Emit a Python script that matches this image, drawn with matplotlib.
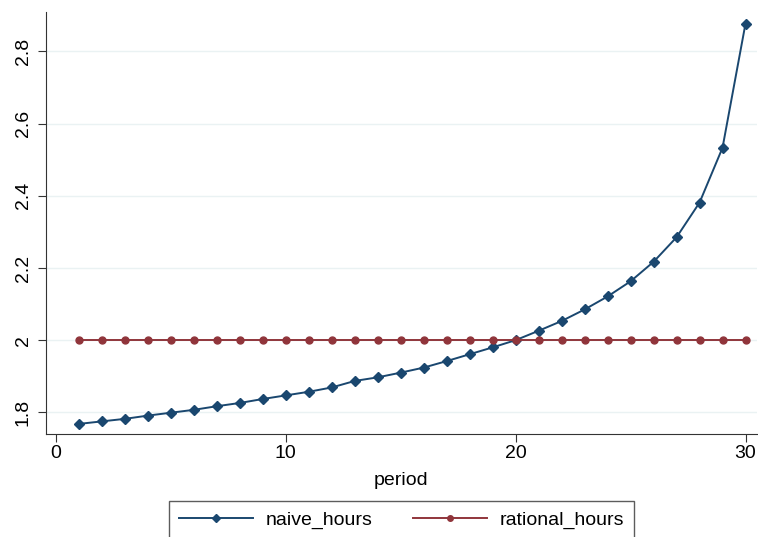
import matplotlib
matplotlib.use("Agg")
import matplotlib.pyplot as plt

plt.rcParams['font.family'] = ['Liberation Sans', 'DejaVu Sans']

period = list(range(1, 31))
naive_hours = [1.768, 1.775, 1.782, 1.791, 1.799, 1.807, 1.817, 1.826, 1.837, 1.847,
               1.857, 1.869, 1.887, 1.897, 1.910, 1.924, 1.942, 1.961, 1.980, 2.000,
               2.026, 2.053, 2.085, 2.121, 2.163, 2.217, 2.285, 2.381, 2.533, 2.877]
rational_hours = [2.0] * 30
xticks = [0, 10, 20, 30]
yticks = [1.8, 2.0, 2.2, 2.4, 2.6, 2.8]
yticklabels = ['1.8', '2', '2.2', '2.4', '2.6', '2.8']

fig = plt.figure(figsize=(7.58, 5.37), dpi=100)
ax = fig.add_axes([45.7/758, (537-434)/537, (757-45.7)/758, (434-12)/537])

navy = '#1a476f'
maroon = '#90353b'
ax.plot(period, naive_hours, color=navy, marker='D', markersize=5.5, lw=1.4, label='naive_hours')
ax.plot(period, rational_hours, color=maroon, marker='o', markersize=5, lw=1.4, label='rational_hours')

ax.set_xlim(-0.45, 30.5)
ax.set_ylim(1.740, 2.909)
ax.set_xticks(xticks)
ax.set_yticks(yticks)
ax.set_yticklabels(yticklabels, rotation=90, va='center')
ax.tick_params(labelsize=14, color='#333333', length=6)
ax.tick_params(axis='x', pad=2)
ax.tick_params(axis='y', pad=4)
ax.grid(axis='y', color='#eaf2f3', lw=1)
ax.set_axisbelow(True)
for s in ['top', 'right']:
    ax.spines[s].set_visible(False)
for s in ['left', 'bottom']:
    ax.spines[s].set_color('#333333')
ax.set_xlabel('period', fontsize=14, labelpad=7)

leg = fig.legend(loc='upper center', bbox_to_anchor=(401.5/758, 1 - 501/537), ncol=2,
                 fontsize=14, frameon=True, fancybox=False, edgecolor='#333333',
                 borderpad=0.5, borderaxespad=0, columnspacing=2.1, handlelength=3.8,
                 handletextpad=0.65, markerscale=0.8)
leg.get_frame().set_linewidth(1)

fig.savefig('out.png', dpi=100, facecolor='white')
